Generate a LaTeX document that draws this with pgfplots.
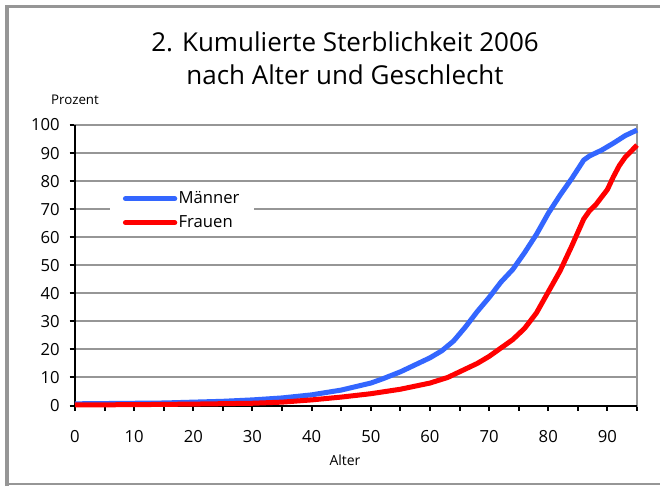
\documentclass[border=0pt]{standalone}
\usepackage{pgfplots}
\pgfplotsset{compat=1.18}
\usepackage{fontspec}
\setmainfont{Open Sans}
\definecolor{mblue}{RGB}{51,102,255}
\definecolor{gridgray}{RGB}{150,150,150}
\begin{document}
\begin{tikzpicture}
\path[use as bounding box] (0,0) rectangle (495pt,364.5pt);
\fill[white] (0,0) rectangle (495pt,364.5pt);
\draw[gridgray, line width=2.6pt] (5.3pt,0) -- (5.3pt,359.5pt) -- (495pt,359.5pt);
\draw[gridgray, line width=1pt] (5pt,1.5pt) -- (495pt,1.5pt);
\node[align=center, font=\fontsize{19.5}{24.75}\selectfont] at (258.75pt,320.5pt) {2. Kumulierte Sterblichkeit 2006\\nach Alter und Geschlecht};
\node[font=\fontsize{10}{12}\selectfont] at (56.25pt,289.5pt) {Prozent};
\node[font=\fontsize{10.5}{12}\selectfont] at (258.75pt,19.5pt) {Alter};
\begin{axis}[
  at={(56.25pt,60.375pt)}, anchor=south west,
  scale only axis, width=421.5pt, height=210.375pt,
  xmin=0, xmax=95, ymin=0, ymax=100,
  xtick={0,10,...,90}, minor xtick={5,15,...,95},
  ytick={0,10,...,100},
  ymajorgrids, major grid style={gridgray, line width=1.5pt},
  axis line style={gridgray, line width=1.5pt},
  tick style={black, line width=1.5pt},
  tick align=outside, major tick length=4pt, minor tick length=4pt,
  xtick pos=bottom, ytick pos=left,
  /pgf/number format/assume math mode=true,
  ticklabel style={font=\fontsize{12.5}{14}\selectfont},
  xticklabel style={yshift=-11.5pt},
  yticklabel style={xshift=-4pt},
  clip=false,
  legend style={at={(rel axis cs:0.0623,0.768)}, anchor=north west, draw=none, fill=white,
    font=\fontsize{12.5}{14}\selectfont, inner xsep=9.5pt, inner ysep=0pt, row sep=5.5pt,
    nodes={inner sep=1pt}},
  legend cell align=left,
  legend image code/.code={\draw[#1, line width=3.75pt, line cap=round] (0pt,0pt) -- (37pt,0pt);},
]
\draw[black, line width=1.5pt] (axis cs:0,100) -- (axis cs:0,0) -- (axis cs:95,0);
\addplot[mblue, line width=3.75pt, line join=round] coordinates {
(0,0.6) (5,0.7) (10,0.8) (15,0.9) (20,1.2) (25,1.5) (30,2.0) (35,2.7) (40,3.8) (45,5.5)
(50,8.0) (52,9.5) (55,12) (58,15) (60,17) (62,19.5) (64,23) (66,28) (68,33.5) (70,38.5)
(72,44) (74,48.5) (76,54.5) (78,61) (80,68.5) (82,75) (84,81) (86,87.5) (87,89) (89,91)
(91,93.5) (93,96.2) (95,98.2)};
\addlegendentry{Männer}
\addplot[red, line width=3.75pt, line join=round] coordinates {
(0,0.2) (10,0.3) (20,0.5) (30,0.8) (35,1.2) (40,2.0) (45,3.0) (50,4.2) (55,5.8) (60,8.0)
(63,10) (65,12) (68,15) (70,17.5) (72,20.5) (74,23.5) (76,27.5) (78,33) (80,40.5) (82,48)
(84,57) (86,66.5) (87,69.5) (88,71.5) (90,77) (91,81.5) (92,85.5) (93,88.5) (95,92.8)};
\addlegendentry{Frauen}
\end{axis}
\end{tikzpicture}
\end{document}
